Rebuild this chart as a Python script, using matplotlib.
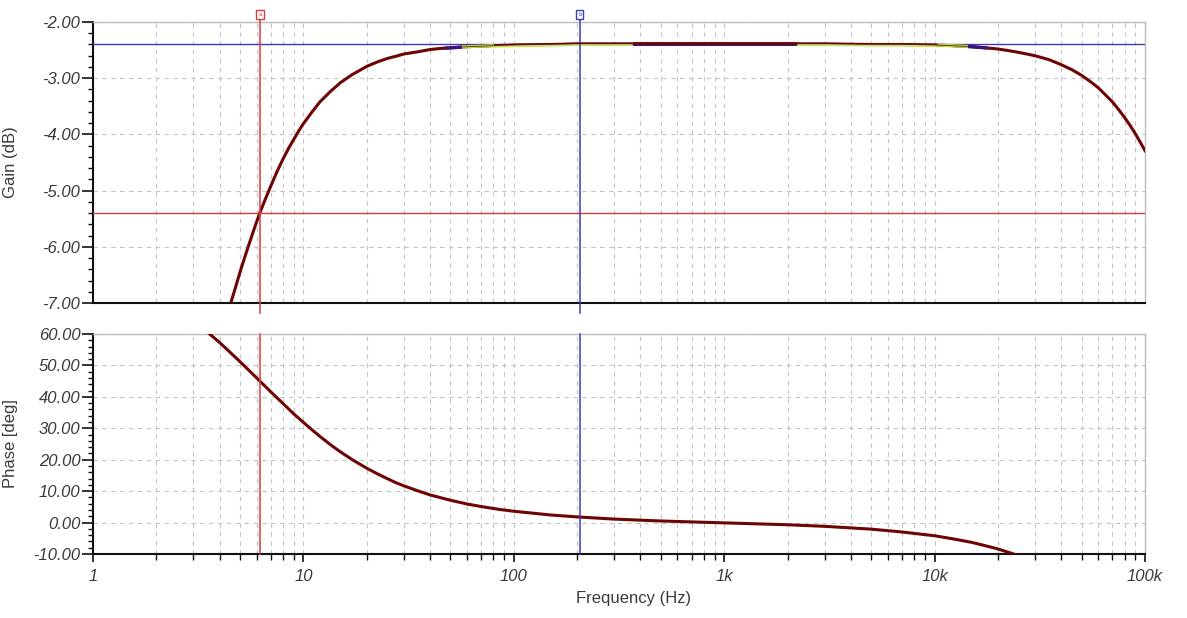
import numpy as np
import matplotlib.pyplot as plt
import matplotlib.ticker as mticker
import matplotlib.transforms as mtransforms

# значения
gain_freq = [4.45, 4.7, 5, 5.25, 5.5, 5.85, 6.22, 6.6, 7, 7.5, 8, 8.5, 9, 9.5, 10,
             11, 12, 13.5, 15, 17, 20, 22.5, 25, 27.5, 30, 35, 40, 45, 50, 60, 70,
             80, 100, 150, 200, 300, 500, 1000, 2000, 3000, 5000, 7000, 10000,
             12000, 15000, 17500, 20000, 22500, 25000, 27500, 30000, 35000, 40000,
             45000, 50000, 55000, 60000, 65000, 70000, 75000, 80000, 85000, 90000,
             95000, 100000]
gain_db = [-7.08, -6.79, -6.45, -6.20, -5.97, -5.67, -5.39, -5.15, -4.92, -4.66,
           -4.44, -4.25, -4.09, -3.94, -3.81, -3.60, -3.42, -3.23, -3.08, -2.94,
           -2.79, -2.71, -2.65, -2.61, -2.57, -2.53, -2.49, -2.47, -2.46, -2.44,
           -2.43, -2.42, -2.41, -2.40, -2.39, -2.39, -2.39, -2.39, -2.39, -2.39,
           -2.40, -2.40, -2.41, -2.42, -2.44, -2.46, -2.48, -2.51, -2.54, -2.57,
           -2.60, -2.67, -2.76, -2.85, -2.95, -3.06, -3.17, -3.30, -3.42, -3.56,
           -3.70, -3.84, -3.99, -4.14, -4.29]

phase_freq = [3.5, 3.75, 4, 4.5, 5, 5.5, 6.22, 7, 8, 9, 10, 11, 12, 13.5, 15, 17,
              20, 22.5, 25, 27.5, 30, 35, 40, 45, 50, 60, 70, 85, 100, 150, 200,
              300, 500, 1000, 2000, 3000, 5000, 7000, 10000, 12500, 15000, 17500,
              20000, 22500, 25000]
phase_deg = [60.6, 58.9, 57.3, 54.1, 51.2, 48.5, 45.0, 41.6, 37.9, 34.6, 31.9,
             29.5, 27.4, 24.7, 22.5, 20.1, 17.3, 15.5, 14.0, 12.7, 11.7, 10.1, 8.8,
             7.9, 7.1, 5.9, 5.1, 4.2, 3.6, 2.4, 1.8, 1.1, 0.5, -0.1, -0.7, -1.2,
             -2.1, -3.0, -4.2, -5.3, -6.3, -7.4, -8.4, -9.5, -10.5]

cursor_a = 6.22      # Гц
cursor_b = 206.0     # Гц
level_a = -5.39      # дБ
level_b = -2.39      # дБ

# участки кривой, которые в оригинале подсвечены другим цветом
hl_purple = [(47, 56.7), (14400, 17900)]
hl_yellow = [(56.7, 80.5), (10300, 14400)]
hl_thin = [(80.5, 368), (2218, 10300)]
hl_thick = [(368, 2218)]

CURVE = '#6e0505'
RED = '#d43c3c'
BLUE = '#3c3cb4'
GRID = '#c4c4c4'
TXT = '#3a3a3a'
FONT = 'Liberation Sans'
FS = 12


def seg(f0, f1):
    lf = np.log10(gain_freq)
    inner = [f for f in gain_freq if f0 < f < f1]
    fs = [f0] + inner + [f1]
    gs = np.interp(np.log10(fs), lf, gain_db)
    return fs, gs


def style(ax, ylo, yhi, major, minor):
    ax.set_xscale('log')
    ax.set_xlim(1, 1e5)
    ax.set_ylim(ylo, yhi)
    ax.yaxis.set_major_locator(mticker.MultipleLocator(major))
    ax.yaxis.set_minor_locator(mticker.MultipleLocator(minor))
    ax.yaxis.set_major_formatter(mticker.FormatStrFormatter('%.2f'))
    ax.xaxis.set_major_locator(mticker.LogLocator(base=10, numticks=10))
    ax.xaxis.set_minor_locator(mticker.LogLocator(base=10, subs=np.arange(2, 10), numticks=20))
    ax.grid(True, which='major', axis='y', color=GRID, ls=(0, (4, 4)), lw=0.8)
    ax.grid(True, which='both', axis='x', color=GRID, ls=(0, (4, 4)), lw=0.8)
    for s in ['top', 'right']:
        ax.spines[s].set_color('#bdbdbd')
        ax.spines[s].set_linewidth(1.0)
    for s in ['left', 'bottom']:
        ax.spines[s].set_color('#111111')
        ax.spines[s].set_linewidth(1.5)
    ax.tick_params(axis='y', which='major', length=8, width=1.2, pad=1, color='#111111')
    ax.tick_params(axis='y', which='minor', length=3.5, width=1.0, color='#111111')
    for lab in ax.get_yticklabels():
        lab.set_fontstyle('italic')
        lab.set_fontfamily(FONT)
        lab.set_fontsize(FS)
        lab.set_color(TXT)


def cursor(ax, f, color, lo, hi, letter=None):
    tr = mtransforms.blended_transform_factory(ax.transData, ax.transAxes)
    ax.plot([f, f], [lo, hi], color=color, lw=1.1, transform=tr, clip_on=False, zorder=5)
    if letter:
        ax.text(f, 1.018, letter, transform=tr, ha='center', va='bottom', fontsize=4,
                color=color, zorder=6,
                bbox=dict(boxstyle='square,pad=0.35', fc='white', ec=color, lw=1.0))


fig = plt.figure(figsize=(11.87, 6.18), dpi=100)
ax1 = fig.add_axes([0.0783, 0.5097, 0.8863, 0.4547])
ax2 = fig.add_axes([0.0783, 0.1036, 0.8863, 0.3559])

# --- усиление ---
style(ax1, -7, -2, 1, 0.2)
ax1.tick_params(axis='x', which='both', length=0, labelbottom=False)
ax1.plot(gain_freq, gain_db, color=CURVE, lw=2.2, zorder=3)
ax1.axhline(level_b, color=BLUE, lw=1.0, zorder=4)
ax1.axhline(level_a, color=RED, lw=1.0, zorder=4)

down = mtransforms.offset_copy(ax1.transData, fig=fig, x=0, y=-1.2, units='dots')
up = mtransforms.offset_copy(ax1.transData, fig=fig, x=0, y=0.6, units='dots')
for f0, f1 in hl_purple:
    fs, gs = seg(f0, f1)
    ax1.plot(fs, gs, color='#3c1478', lw=2.4, zorder=5, solid_capstyle='butt')
for f0, f1 in hl_yellow:
    fs, gs = seg(f0, f1)
    ax1.plot(fs, gs, color='#c2dc3a', lw=2.2, zorder=5, solid_capstyle='butt')
    ax1.plot(fs, gs, color='#5a4a10', lw=0.7, zorder=6, solid_capstyle='butt')
for f0, f1 in hl_thin:
    fs, gs = seg(f0, f1)
    ax1.plot(fs, gs, color='#c8e650', lw=1.3, transform=down, zorder=5, solid_capstyle='butt')
    ax1.plot(fs, gs, color=CURVE, lw=0.9, transform=up, zorder=6, solid_capstyle='butt')
for f0, f1 in hl_thick:
    fs, gs = seg(f0, f1)
    ax1.plot(fs, gs, color='#3c1478', lw=1.4, transform=down, zorder=5, solid_capstyle='butt')
    ax1.plot(fs, gs, color=CURVE, lw=2.0, transform=up, zorder=6, solid_capstyle='butt')

cursor(ax1, cursor_a, RED, -0.036, 1.018, 'a')
cursor(ax1, cursor_b, BLUE, -0.036, 1.018, 'b')
ax1.set_ylabel('Gain (dB)', fontsize=FS, color=TXT, fontfamily=FONT)
ax1.yaxis.set_label_coords(-0.0713, 0.5)

# --- фаза ---
style(ax2, -10, 60, 10, 2)
ax2.plot(phase_freq, phase_deg, color=CURVE, lw=2.2, zorder=3)
cursor(ax2, cursor_a, RED, 0, 1)
cursor(ax2, cursor_b, BLUE, 0, 1)
ax2.xaxis.set_major_formatter(mticker.FixedFormatter(['1', '10', '100', '1k', '10k', '100k']))
ax2.xaxis.set_major_locator(mticker.FixedLocator([1, 10, 100, 1e3, 1e4, 1e5]))
ax2.tick_params(axis='x', which='major', length=6, width=1.2, pad=5, color='#111111')
ax2.tick_params(axis='x', which='minor', length=4, width=1.0, color='#111111')
for lab in ax2.get_xticklabels():
    lab.set_fontstyle('italic')
    lab.set_fontfamily(FONT)
    lab.set_fontsize(FS)
    lab.set_color(TXT)
ax2.set_ylabel('Phase [deg]', fontsize=FS, color=TXT, fontfamily=FONT)
ax2.yaxis.set_label_coords(-0.0713, 0.5)
ax2.set_xlabel('Frequency (Hz)', fontsize=FS, color=TXT, fontfamily=FONT)
ax2.xaxis.set_label_coords(0.514, -0.17)

fig.savefig('out.png', dpi=100, facecolor='white')
